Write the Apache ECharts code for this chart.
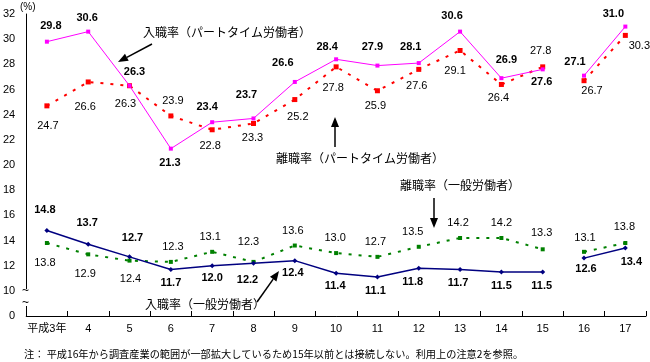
<!DOCTYPE html>
<html><head><meta charset="utf-8">
<script src="https://cdn.jsdelivr.net/npm/echarts@6/dist/echarts.min.js"></script>
<style>html,body{margin:0;padding:0;background:#fff}#c{width:650px;height:362px}</style>
</head><body><div id="c"></div>
<script>
// ---- data ----
const categories = ['平成3年','4','5','6','7','8','9','10','11','12','13','14','15','16','17'];
const hiringPart = [29.8,30.6,26.3,21.3,23.4,23.7,26.6,28.4,27.9,28.1,30.6,26.9,27.6,27.1,31.0];
const separationPart = [24.7,26.6,26.3,23.9,22.8,23.3,25.2,27.8,25.9,27.6,29.1,26.4,27.8,26.7,30.3];
const hiringGeneral = [14.8,13.7,12.7,11.7,12.0,12.2,12.4,11.4,11.1,11.8,11.7,11.5,11.5,12.6,13.4];
const separationGeneral = [13.8,12.9,12.4,12.3,13.1,12.3,13.6,13.0,12.7,13.5,14.2,14.2,13.3,13.1,13.8];
const breakIndex = 13; // series discontinued between 15 and 16
const yMin = 8, yMax = 32, yInterval = 2;

// ---- label offsets (style) ----
const offHP = [[4,-16],[-1,-14],[5,-14],[-1,14],[-5,-15],[-7,-23],[-12,-19],[-9,-12],[-5,-19],[-8,-16],[-8,-16],[5,-18],[-1,13],[-9,-14],[-12,-13]];
const offSP = [[1,20],[-3,25],[-4,18],[2,-15],[-2,16],[-1,14],[3,17],[-3,21],[-2,15],[-2,17],[-5,20],[-3,14],[-2,-16],[8,10],[14,11]];
const offHG = [[-2,-20],[-1,-21],[3,-19],[0,14],[0,12],[-6,17],[-2,12],[-1,13],[-2,14],[-6,14],[-2,14],[0,14],[-1,14],[2,11],[6,14]];
const offSG = [[-2,20],[-3,20],[1,18],[2,-15],[-2,-15],[-5,-20],[-2,-15],[-1,-15],[-2,-15],[-6,-15],[-2,-15],[0,-15],[-1,-16],[1,-14],[-1,-16]];

const numFont = 'Liberation Sans, Arial, sans-serif';
const jpFont = '"Noto Sans CJK JP", sans-serif';

function mkSeries(values, offs, cfg, part){
  const data = values.map((v,i)=>{
    const inPart = part===0 ? i<breakIndex : i>=breakIndex;
    if(!inPart) return '-';
    return {value:v, label:{offset:offs[i]}};
  });
  return {
    type:'line', data, connectNulls:false, z:cfg.z||2,
    symbol:cfg.symbol, symbolSize:cfg.size, showAllSymbol:true,
    itemStyle:{color:cfg.color},
    lineStyle:{color:cfg.color,width:cfg.width,type:cfg.dash||'solid'},
    label:{show:true,position:'inside',align:'center',verticalAlign:'middle',
      fontFamily:numFont,fontSize:11,fontWeight:cfg.bold?'bold':'normal',color:'#000',
      formatter:p=>Number(p.value).toFixed(1)},
    emphasis:{disabled:true}, animation:false
  };
}
const cfgHP={color:'#ff00ff',width:1,symbol:'rect',size:4,bold:true,z:4};
const cfgSP={color:'#ff0000',width:2,symbol:'rect',size:5,dash:[3,7],z:3};
const cfgHG={color:'#000080',width:1.5,symbol:'diamond',size:5,bold:true,z:4};
const cfgSG={color:'#008000',width:2,symbol:'rect',size:4,dash:[3,7],z:3};

const series=[];
[[hiringPart,offHP,cfgHP],[separationPart,offSP,cfgSP],[hiringGeneral,offHG,cfgHG],[separationGeneral,offSG,cfgSG]].forEach(([v,o,c])=>{
  series.push(mkSeries(v,o,c,0)); series.push(mkSeries(v,o,c,1));
});

function arrow(x1,y1,x2,y2){
  const dx=x2-x1, dy=y2-y1, L=Math.hypot(dx,dy), ux=dx/L, uy=dy/L;
  const hl=10, hw=4;
  const bx=x2-ux*hl, by=y2-uy*hl;
  return [
    {type:'line',shape:{x1,y1,x2:bx,y2:by},style:{stroke:'#000',lineWidth:1.5},z:10},
    {type:'polygon',shape:{points:[[x2,y2],[bx-uy*hw,by+ux*hw],[bx+uy*hw,by-ux*hw]]},style:{fill:'#000'},z:10}
  ];
}
function txt(x,y,s,size,font){
  return {type:'text',x,y,style:{text:s,fill:'#000',font:(size||12)+'px '+(font||jpFont),textVerticalAlign:'middle'},z:10};
}

const graphic=[
  {type:'rect',shape:{x:22,y:289,width:8,height:17},style:{fill:'#fff'},z:20},
  {type:'text',x:22,y:291,style:{text:'~',fill:'#000',font:'12px '+numFont,textVerticalAlign:'middle'},z:21},
  {type:'text',x:22,y:303,style:{text:'~',fill:'#000',font:'12px '+numFont,textVerticalAlign:'middle'},z:21},
  txt(20,7,'(%)',10,numFont),
  txt(143,32,'入職率（パートタイム労働者）',12),
  txt(276,158,'離職率（パートタイム労働者）',12),
  txt(400,185,'離職率（一般労働者）',12),
  txt(145,304,'入職率（一般労働者）',12),
  txt(24,354,'注： 平成16年から調査産業の範囲が一部拡大しているため15年以前とは接続しない。利用上の注意2を参照。',10.2),
  ...arrow(152,44,118,62),
  ...arrow(335,147,335,117),
  ...arrow(434,198,434,228),
  ...arrow(257,302,279,271)
];

const chart=echarts.init(document.getElementById('c'),null,{renderer:'canvas'});
chart.setOption({
  animation:false,
  grid:{left:26,right:4,top:14,bottom:46,containLabel:false},
  xAxis:{type:'category',data:categories,boundaryGap:true,
    axisLine:{lineStyle:{color:'#000',width:1}},
    axisTick:{show:true,inside:true,length:5,interval:0,lineStyle:{color:'#000'}},
    axisLabel:{interval:0,margin:7,color:'#000',fontSize:11,fontFamily:'Liberation Sans, "Noto Sans CJK JP", sans-serif'},
    splitLine:{show:false}},
  yAxis:{type:'value',min:yMin,max:yMax,interval:yInterval,
    axisLine:{show:true,lineStyle:{color:'#000',width:1}},
    axisTick:{show:false},splitLine:{show:false},
    axisLabel:{margin:11,color:'#000',fontSize:11,fontFamily:numFont,
      formatter:v=> v===yMin ? '0' : (v>=10 ? String(v) : '')}},
  series, graphic
});
</script></body></html>
